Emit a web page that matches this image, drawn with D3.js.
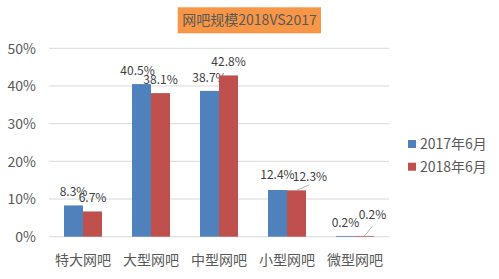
<!DOCTYPE html>
<html><head><meta charset="utf-8">
<script src="https://cdn.jsdelivr.net/npm/d3@7"></script>
<style>
html,body{margin:0;padding:0;background:#fff;}
svg{display:block;font-family:"Noto Sans CJK SC","Noto Sans",sans-serif;}
</style></head>
<body>
<svg id="chart" width="499" height="279"></svg>
<script>
const categories = ["特大网吧","大型网吧","中型网吧","小型网吧","微型网吧"];
const seriesNames = ["2017年6月","2018年6月"];
const values2017 = [8.3, 40.5, 38.7, 12.4, 0.2];
const values2018 = [6.7, 38.1, 42.8, 12.3, 0.2];
const yTicks = [0,10,20,30,40,50];
const titleText = "网吧规模2018VS2017";

// label nudges (px) per series/category
const labelDx = [[0,-4,0,0,0],[0,0,0,13.5,8]];
const labelDy = [[0,0,0,-1.5,0],[0,0,0,0,-8]];
const leaderEnd = [[null,null,null,null,null],[null,null,null,[13,-5.5],[8,-10]]];

const colors = ["#4F81BD","#C0504D"];
const svg = d3.select("#chart");
const pLeft = 49, pRight = 389, pTop = 48.3, pBottom = 236.7;

const y = d3.scaleLinear().domain([0,50]).range([pBottom, pTop]);
const x0 = d3.scaleBand().domain(categories).range([pLeft,pRight]).paddingInner(0.441).paddingOuter(0.2206);
const x1 = d3.scaleBand().domain(seriesNames).range([0, x0.bandwidth()]);

// gridlines
svg.append("g").selectAll("line").data(yTicks).join("line")
  .attr("x1", pLeft).attr("x2", pRight)
  .attr("y1", d=>y(d)).attr("y2", d=>y(d))
  .attr("stroke", "#D9D9D9").attr("stroke-width", 1);

// y axis labels
const yAxis = d3.axisLeft(y).tickValues(yTicks).tickFormat(d=>d+"%").tickSize(0).tickPadding(0);
const ga = svg.append("g").attr("transform", `translate(36,0)`).call(yAxis);
ga.select(".domain").remove();
ga.selectAll("text").attr("font-size", 14).attr("fill", "#595959").attr("font-family","\"Noto Sans CJK SC\",sans-serif").attr("dy","0.35em");

// x axis labels
const xAxis = d3.axisBottom(x0).tickSize(0).tickPadding(0);
const gx = svg.append("g").attr("transform", `translate(0,${pBottom})`).call(xAxis);
gx.select(".domain").remove();
gx.selectAll("text").attr("font-size", 14).attr("fill", "#595959").attr("font-family","\"Noto Sans CJK SC\",sans-serif").attr("dy","0.35em").attr("y", 23);

const all = [values2017, values2018];
all.forEach((vals, si) => {
  const g = svg.append("g");
  g.selectAll("rect").data(vals).join("rect")
    .attr("x", (d,i)=>x0(categories[i]) + x1(seriesNames[si]))
    .attr("width", x1.bandwidth())
    .attr("y", d=>y(d))
    .attr("height", d=>y(0)-y(d))
    .attr("fill", colors[si]);
  g.selectAll("line.lead").data(vals.map((d,i)=>({d,i})).filter(o=>leaderEnd[si][o.i])).join("line")
    .attr("class","lead")
    .attr("x1", o=>x0(categories[o.i]) + x1(seriesNames[si]) + x1.bandwidth()/2)
    .attr("y1", o=>y(o.d))
    .attr("x2", o=>x0(categories[o.i]) + x1(seriesNames[si]) + x1.bandwidth()/2 + leaderEnd[si][o.i][0])
    .attr("y2", o=>y(o.d) + leaderEnd[si][o.i][1])
    .attr("stroke", "#A6A6A6").attr("stroke-width", 0.8);
  g.selectAll("text").data(vals).join("text")
    .attr("x", (d,i)=>x0(categories[i]) + x1(seriesNames[si]) + x1.bandwidth()/2 + labelDx[si][i])
    .attr("y", (d,i)=>y(d) - 13.5 + labelDy[si][i])
    .attr("dy","0.35em")
    .attr("text-anchor","middle")
    .attr("font-size", 12).attr("fill", "#404040")
    .text(d=>d.toFixed(1)+"%");
});

// title
const tg = svg.append("g");
tg.append("rect").attr("x",177.7).attr("y",7.3).attr("width",143.3).attr("height",26).attr("fill","#F79646");
tg.append("text").attr("x",249.5).attr("y",20.5).attr("dy","0.35em").attr("text-anchor","middle")
  .attr("font-size",14).attr("fill","#595959").text(titleText);

// legend
const lg = svg.append("g").selectAll("g").data(seriesNames).join("g")
  .attr("transform",(d,i)=>`translate(408,${144 + i*22.7})`);
lg.append("rect").attr("x",0).attr("y",-4).attr("width",8).attr("height",8).attr("fill",(d,i)=>colors[i]);
lg.append("text").attr("x",12).attr("y",0).attr("dy","0.35em").attr("font-size",14).attr("fill","#595959").text(d=>d);
</script>
</body></html>
